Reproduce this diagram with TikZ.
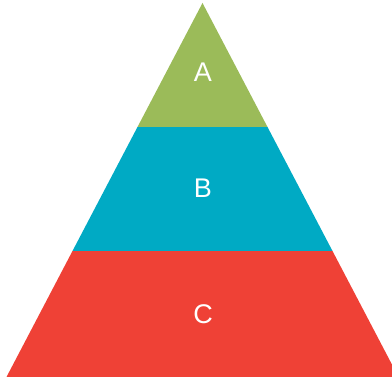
\documentclass[tikz,border=0pt]{standalone}
\usepackage{fontspec}
\setmainfont{Liberation Sans}
\usetikzlibrary{positioning}
\definecolor{levelgreen}{HTML}{9BBB59}
\definecolor{levelblue}{HTML}{00AAC4}
\definecolor{levelred}{HTML}{EF4136}

\begin{document}
\begin{tikzpicture}[x=1pt, y=1pt]
          \useasboundingbox (0,0) rectangle (392,377);
          % Nivel inferior
          \fill[levelred] (6.5,0) -- (72.5,126) -- (332.5,126) -- (398.5,0) -- cycle;
          % Nivel medio
          \fill[levelblue] (72.5,126) -- (137.5,250) -- (267.5,250) -- (332.5,126) -- cycle;
          % Cima
          \fill[levelgreen] (137.5,250) -- (202.5,374) -- (267.5,250) -- cycle;
          \node[font=\fontsize{27}{32}\selectfont, white] (labelA) at (203,305) {A};
          \node[font=\fontsize{27}{32}\selectfont, white] (labelB) at (203,189) {B};
          \node[font=\fontsize{27}{32}\selectfont, white] (labelC) at (203,63) {C};
        \end{tikzpicture}
\end{document}
